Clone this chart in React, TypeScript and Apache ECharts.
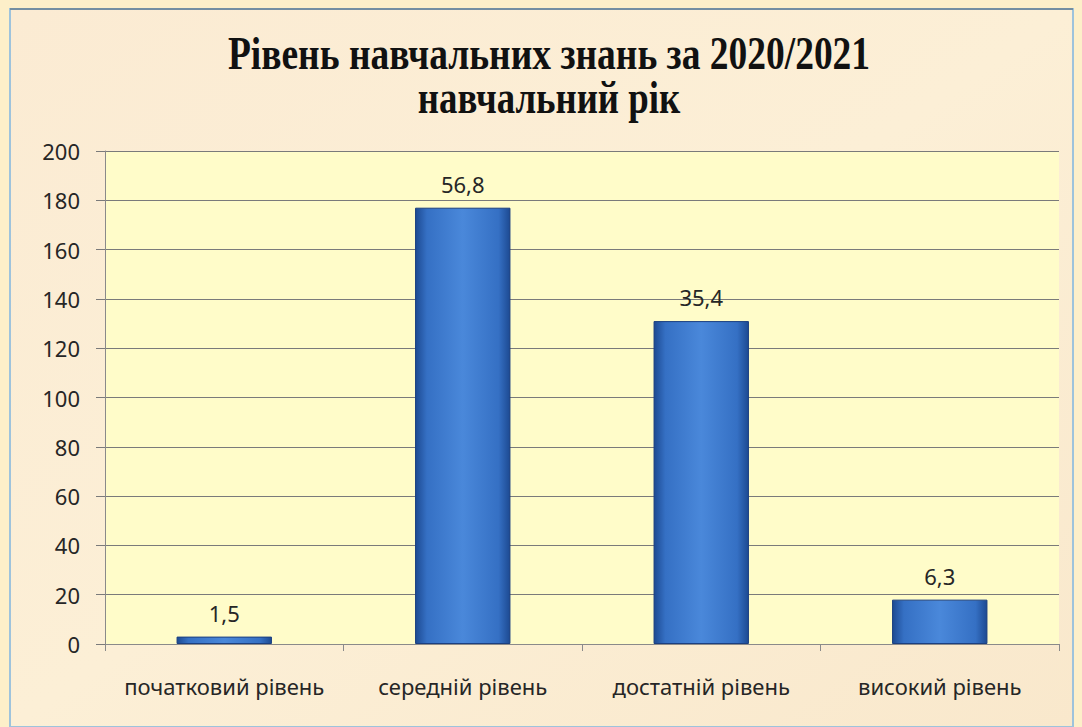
import React, { useEffect, useRef } from "react";
import * as echarts from "echarts";

const categories = ["початковий рівень", "середній рівень", "достатній рівень", "високий рівень"];
const barHeights = [3, 177, 131, 18];
const barLabels = ["1,5", "56,8", "35,4", "6,3"];
const yTicks = { min: 0, max: 200, interval: 20 };
const titleLines = ["Рівень навчальних знань за 2020/2021", "навчальний рік"];

export default function App() {
  const ref = useRef<HTMLDivElement>(null);
  useEffect(() => {
    if (!ref.current) return;
    const chart = echarts.init(ref.current, null, { renderer: "svg" });
    const barGrad = new echarts.graphic.LinearGradient(0, 0, 1, 0, [
      { offset: 0, color: "#1d4a92" },
      { offset: 0.12, color: "#3570c4" },
      { offset: 0.5, color: "#4a88da" },
      { offset: 0.88, color: "#3570c4" },
      { offset: 1, color: "#1d4a92" },
    ]);
    const titleStyle = {
      fontFamily: "Liberation Serif",
      fontWeight: "bold",
      fontSize: 46,
      fill: "#111",
      align: "center",
      verticalAlign: "top",
    };
    chart.setOption({
      animation: false,
      backgroundColor: "#fdefc9",
      graphic: [
        {
          type: "rect",
          z: -10,
          silent: true,
          shape: { x: 10, y: 9, width: 1063, height: 718 },
          style: {
            fill: new echarts.graphic.LinearGradient(0, 0, 1, 1, [
              { offset: 0, color: "#fbebd3" },
              { offset: 0.5, color: "#fcefd6" },
              { offset: 1, color: "#f9e8cc" },
            ]),
            stroke: "#9ec3dc",
            lineWidth: 2,
          },
        },
        {
          type: "line",
          z: -9,
          silent: true,
          shape: { x1: 10, y1: 9, x2: 1073, y2: 9 },
          style: { stroke: "#4a5a66", lineWidth: 1 },
        },
        {
          type: "text",
          silent: true,
          style: { ...titleStyle, text: titleLines[0] },
          x: 549,
          y: 31,
          scaleX: 0.815,
        },
        {
          type: "text",
          silent: true,
          style: { ...titleStyle, text: titleLines[1] },
          x: 549,
          y: 75,
          scaleX: 0.8,
        },
      ],
      grid: {
        left: 105,
        right: 23,
        top: 151,
        bottom: 83,
        show: true,
        backgroundColor: "#fffcc9",
        borderWidth: 0,
      },
      xAxis: {
        type: "category",
        data: categories,
        axisLine: { show: true, lineStyle: { color: "#8a8a8a", width: 1 } },
        axisTick: { show: true, interval: 0, length: 7, alignWithLabel: false, lineStyle: { color: "#8a8a8a" } },
        axisLabel: {
          interval: 0,
          fontFamily: "Noto Sans",
          fontSize: 22,
          color: "#262626",
          margin: 31,
        },
      },
      yAxis: {
        type: "value",
        min: yTicks.min,
        max: yTicks.max,
        interval: yTicks.interval,
        axisLine: { show: true, lineStyle: { color: "#8a8a8a", width: 1 } },
        axisTick: { show: true, length: 9, lineStyle: { color: "#7a7a7a" } },
        axisLabel: {
          fontFamily: "Noto Sans",
          fontSize: 22,
          color: "#262626",
          margin: 25,
        },
        splitLine: { show: true, lineStyle: { color: "#7a7a7a", width: 1 } },
      },
      series: [
        {
          type: "bar",
          data: barHeights,
          barWidth: "40%",
          itemStyle: { color: barGrad, borderColor: "#1b3f80", borderWidth: 1 },
          label: {
            show: true,
            position: "top",
            distance: 13,
            fontFamily: "Noto Sans",
            fontSize: 22,
            color: "#262626",
            formatter: (p: any) => barLabels[p.dataIndex],
          },
        },
      ],
    });
    return () => chart.dispose();
  }, []);
  return (
    <div
      ref={ref}
      style={{ position: "absolute", left: 0, top: 0, width: 1082, height: 727 }}
    />
  );
}
